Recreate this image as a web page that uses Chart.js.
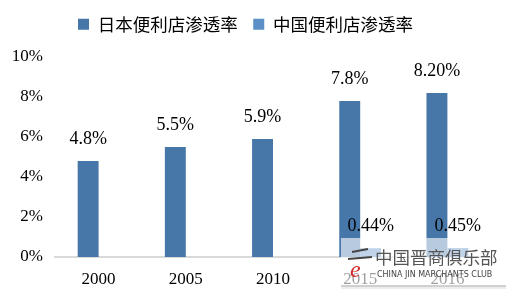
<!DOCTYPE html>
<html>
<head>
<meta charset="utf-8">
<script src="https://cdn.jsdelivr.net/npm/chart.js@4/dist/chart.umd.min.js"></script>
<style>
  html, body { margin: 0; padding: 0; background: #fff; }
  #wrap { width: 511px; height: 298px; }
</style>
</head>
<body>
<div id="wrap"><canvas id="chart"></canvas></div>
<script>
// данные
const years = ['2000', '2005', '2010', '2015', '2016'];
const japanRate = [4.8, 5.5, 5.9, 7.8, 8.2];
const chinaRate = [null, null, null, 0.44, 0.45];
const japanText = ['4.8%', '5.5%', '5.9%', '7.8%', '8.20%'];
const chinaText = [null, null, null, '0.44%', '0.45%'];
const yTicks = [0, 2, 4, 6, 8, 10];

const serif = '"Liberation Serif", "Times New Roman", serif';
const cjk = '"Noto Sans CJK SC", sans-serif';

// отступ под легендой
const legendSpace = {
    id: 'legendSpace',
    beforeInit(chart) {
        const fit = chart.legend.fit;
        chart.legend.fit = function () {
            fit.bind(chart.legend)();
            this.height += 14;
        };
    }
};

// подписи над столбцами
const barLabels = {
    id: 'barLabels',
    afterDatasetsDraw(chart) {
        const ctx = chart.ctx;
        const texts = [japanText, chinaText];
        ctx.save();
        ctx.font = '18px ' + serif;
        ctx.fillStyle = '#000';
        ctx.textAlign = 'center';
        ctx.textBaseline = 'middle';
        chart.data.datasets.forEach((ds, di) => {
            const meta = chart.getDatasetMeta(di);
            meta.data.forEach((bar, i) => {
                const t = texts[di][i];
                if (!t || ds.data[i] == null) return;
                ctx.fillText(t, bar.x, bar.y - 22);
            });
        });
        ctx.restore();
    }
};

// водяной знак
const watermark = {
    id: 'watermark',
    afterDraw(chart) {
        const ctx = chart.ctx;
        ctx.save();
        ctx.fillStyle = 'rgba(255,255,255,0.62)';
        ctx.fillRect(341, 238, 165, 47);
        ctx.fillStyle = 'rgba(120,120,120,0.35)';
        ctx.fillRect(341, 285, 165, 2);
        ctx.fillStyle = 'rgba(160,160,160,0.2)';
        ctx.fillRect(341, 287, 165, 2);
        // логотип
        ctx.strokeStyle = '#444';
        ctx.lineWidth = 2;
        ctx.beginPath();
        ctx.moveTo(352, 252); ctx.lineTo(368, 249);
        ctx.moveTo(348, 259); ctx.lineTo(372, 257);
        ctx.stroke();
        ctx.fillStyle = '#d42a2a';
        ctx.font = 'italic 24px ' + serif;
        ctx.textAlign = 'left';
        ctx.textBaseline = 'alphabetic';
        ctx.fillText('e', 350, 277);
        ctx.fillStyle = '#555';
        ctx.font = '17.5px ' + cjk;
        ctx.textBaseline = 'middle';
        ctx.fillText('中国晋商俱乐部', 375, 257);
        ctx.fillStyle = '#444';
        ctx.font = '8px "DejaVu Sans", sans-serif';
        ctx.fillText('CHINA JIN MARCHANTS CLUB', 377, 275);
        ctx.restore();
    }
};

const createChart = () => {
    const canvas = document.getElementById('chart');
    return new Chart(canvas, {
        type: 'bar',
        data: {
            labels: years,
            datasets: [{
                label: '日本便利店渗透率',
                data: japanRate,
                backgroundColor: '#4677a8',
                categoryPercentage: 0.48,
                barPercentage: 1.0
            }, {
                label: '中国便利店渗透率',
                data: chinaRate,
                backgroundColor: '#5b8fc6',
                categoryPercentage: 0.48,
                barPercentage: 1.0
            }]
        },
        options: {
            responsive: true,
            maintainAspectRatio: false,
            animation: false,
            layout: { padding: { top: 0, right: 20, left: 0, bottom: 0 } },
            plugins: {
                legend: {
                    position: 'top',
                    labels: {
                        boxWidth: 11,
                        boxHeight: 11,
                        padding: 15.5,
                        color: '#000',
                        font: { family: cjk, size: 17.5 }
                    }
                },
                tooltip: { enabled: false }
            },
            scales: {
                x: {
                    grid: { display: false, drawTicks: false },
                    border: { display: true, color: '#d9d9d9', width: 2 },
                    ticks: {
                        color: '#000',
                        padding: 12,
                        font: { family: serif, size: 17 }
                    },
                    afterFit: (scale) => { scale.height = 41; }
                },
                y: {
                    min: 0,
                    max: 10,
                    grid: { display: false, drawTicks: false },
                    border: { display: false },
                    afterBuildTicks: (scale) => {
                        scale.ticks = yTicks.map(v => ({ value: v }));
                    },
                    ticks: {
                        color: '#000',
                        padding: 12,
                        font: { family: serif, size: 17 },
                        callback: (v) => v + '%'
                    },
                    afterFit: (scale) => { scale.width = 55; }
                }
            }
        },
        plugins: [legendSpace, barLabels, watermark]
    });
};

createChart();
</script>
</body>
</html>
